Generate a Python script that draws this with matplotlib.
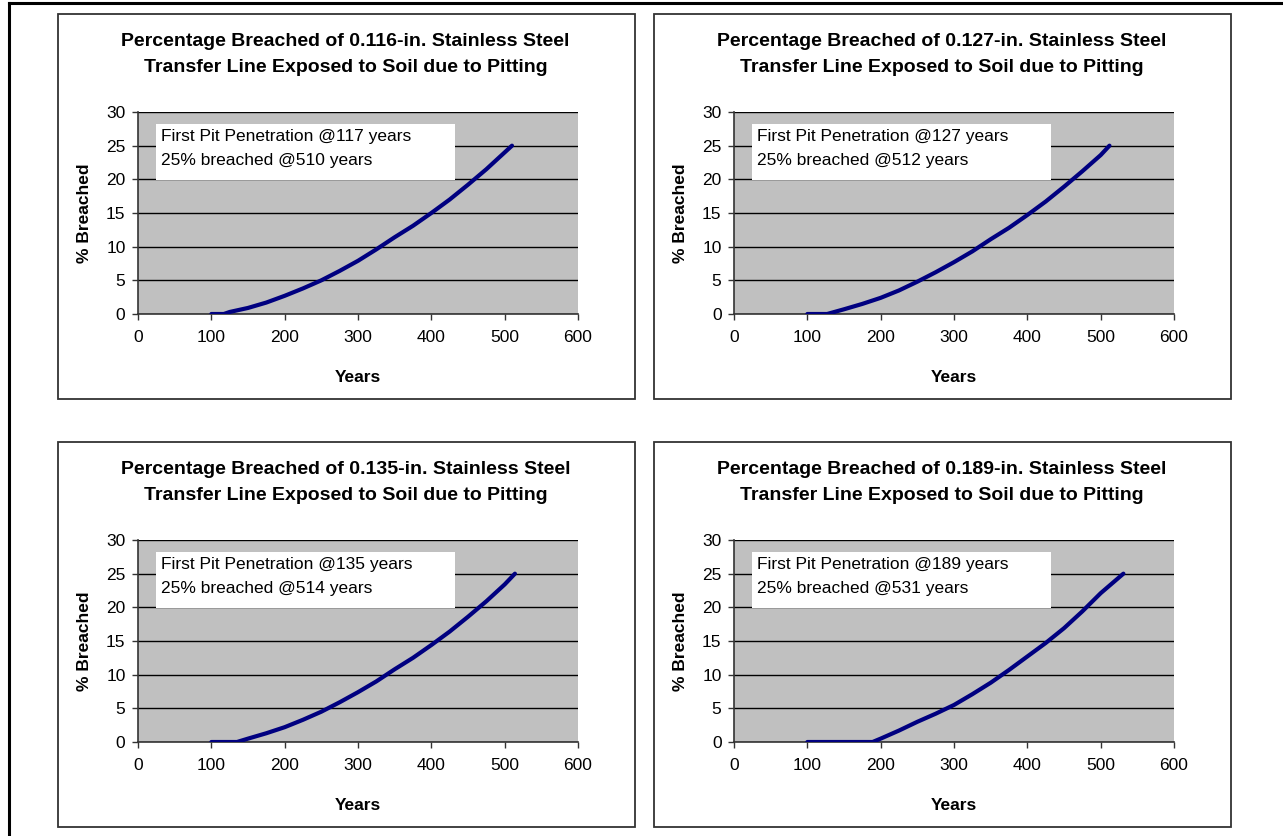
import numpy as np
import matplotlib
matplotlib.use('Agg')
import matplotlib.pyplot as plt
from matplotlib.patches import Rectangle
from matplotlib.lines import Line2D

plt.rcParams['font.family'] = ['Liberation Sans', 'DejaVu Sans']

# wall thickness of each transfer line (in.)
thickness = ['0.116', '0.127', '0.135', '0.189']
first_pit = [117, 127, 135, 189]
breach_25 = [510, 512, 514, 531]

# curves: years vs % breached
years_1 = [100, 117, 125, 150, 175, 200, 225, 250, 275, 300, 325, 350, 375, 400, 425, 450, 475, 500, 510]
pct_1 = [0, 0, 0.3, 0.9, 1.7, 2.7, 3.8, 5.0, 6.4, 7.9, 9.6, 11.4, 13.1, 15.0, 17.0, 19.2, 21.5, 24.0, 25.0]
years_2 = [100, 127, 150, 175, 200, 225, 250, 275, 300, 325, 350, 375, 400, 425, 450, 475, 500, 512]
pct_2 = [0, 0, 0.7, 1.5, 2.4, 3.5, 4.8, 6.2, 7.7, 9.3, 11.1, 12.8, 14.7, 16.7, 18.9, 21.2, 23.6, 25.0]
years_3 = [100, 135, 150, 175, 200, 225, 250, 275, 300, 325, 350, 375, 400, 425, 450, 475, 500, 514]
pct_3 = [0, 0, 0.5, 1.3, 2.2, 3.3, 4.5, 5.9, 7.4, 9.0, 10.8, 12.5, 14.4, 16.4, 18.6, 20.9, 23.4, 25.0]
years_4 = [100, 189, 200, 225, 250, 275, 300, 325, 350, 375, 400, 425, 450, 475, 500, 531]
pct_4 = [0, 0, 0.5, 1.7, 3.0, 4.2, 5.5, 7.1, 8.8, 10.7, 12.7, 14.7, 16.9, 19.4, 22.1, 25.0]

series = [(years_1, pct_1), (years_2, pct_2), (years_3, pct_3), (years_4, pct_4)]

W, H = 1283, 836
fig = plt.figure(figsize=(W / 100, H / 100), dpi=100)


def fx(px):
    return px / W


def fy(py):
    return 1 - py / H


# outer page frame (left and top edges visible)
fig.add_artist(Line2D([fx(9), fx(9)], [0, fy(2.5)], color='black', lw=2.2))
fig.add_artist(Line2D([fx(9), 1], [fy(2.5), fy(2.5)], color='black', lw=2.2))

box_left = [58, 654, 58, 654]
box_top = [14, 14, 442, 442]
box_w, box_h = 577, 385

for i in range(4):
    bx, by = box_left[i], box_top[i]
    # chart border
    fig.add_artist(Rectangle((fx(bx), fy(by + box_h)), box_w / W, box_h / H,
                             transform=fig.transFigure, fill=False,
                             edgecolor='#333333', lw=1.3))
    cx = fx(bx + box_w / 2 - 1)
    fig.text(cx, fy(by + 27.5), f'Percentage Breached of {thickness[i]}-in. Stainless Steel',
             ha='center', va='center', fontsize=14, fontweight='bold')
    fig.text(cx, fy(by + 53.5), 'Transfer Line Exposed to Soil due to Pitting',
             ha='center', va='center', fontsize=14, fontweight='bold')

    ax_l = bx + 80
    ax_t = by + 98
    ax = fig.add_axes([fx(ax_l), fy(ax_t + 202), 440 / W, 202 / H])
    ax.set_facecolor('#C0C0C0')
    ax.set_xlim(0, 600)
    ax.set_ylim(0, 30)
    ax.set_xticks(range(0, 601, 100))
    ax.set_yticks(range(0, 31, 5))
    ax.yaxis.grid(True, color='black', lw=1.0)
    ax.set_axisbelow(True)
    for s in ['top', 'right']:
        ax.spines[s].set_visible(False)
    for s in ['left', 'bottom']:
        ax.spines[s].set_color('#333333')
        ax.spines[s].set_linewidth(1.2)
    ax.tick_params(direction='out', length=4, width=1.0, color='#333333',
                   labelsize=12.5, pad=5)
    ax.tick_params(axis='x', pad=7.5)

    x, y = series[i]
    ax.plot(x, y, color='#000080', lw=3.0, solid_capstyle='round',
            solid_joinstyle='round', zorder=3)

    # annotation box
    ax.add_patch(Rectangle((25, 19.9), 407, 8.3, facecolor='white',
                           edgecolor='none', zorder=2))
    ax.text(32, 26.4, f'First Pit Penetration @{first_pit[i]} years',
            fontsize=12.5, va='center', ha='left', zorder=4)
    ax.text(32, 22.8, f'25% breached @{breach_25[i]} years',
            fontsize=12.5, va='center', ha='left', zorder=4)

    ax.set_xlabel('Years', fontsize=12.5, fontweight='bold', labelpad=18)
    ax.set_ylabel('% Breached', fontsize=12.5, fontweight='bold', labelpad=10)

fig.savefig('out.png', dpi=100)
